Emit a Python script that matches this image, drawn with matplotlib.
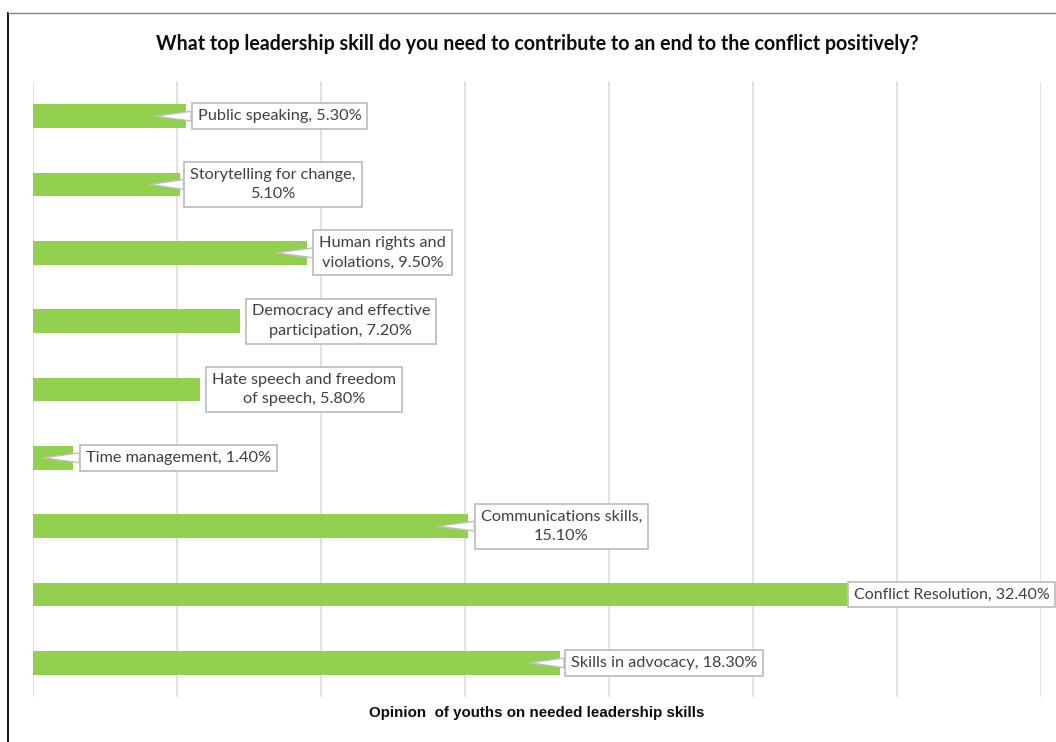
import matplotlib
matplotlib.use("Agg")
import matplotlib.pyplot as plt
from matplotlib.lines import Line2D
import numpy as np

# Survey results (top to bottom as shown)
skills = ["Public speaking", "Storytelling for change", "Human rights and violations",
          "Democracy and effective participation", "Hate speech and freedom of speech",
          "Time management", "Communications skills", "Conflict Resolution",
          "Skills in advocacy"]
shares = [5.3, 5.1, 9.5, 7.2, 5.8, 1.4, 15.1, 32.4, 18.3]

# Label text, with the line breaks used in the callouts
label_names = ["Public speaking,", "Storytelling for change,\n", "Human rights and\nviolations,",
               "Democracy and effective\nparticipation,", "Hate speech and freedom\nof speech,",
               "Time management,", "Communications skills,\n", "Conflict Resolution,",
               "Skills in advocacy,"]

# Callout box centre x (in % units) and whether a pointer is drawn
box_x = [8.56, 8.33, 12.14, 10.69, 9.41, 5.05, 18.35, None, 21.90]
has_pointer = [True, True, True, False, False, True, True, False, True]

title = "What top leadership skill do you need to contribute to an end to the conflict positively?"
xlabel = "Opinion  of youths on needed leadership skills"

plt.rcParams['font.family'] = ['Lato', 'DejaVu Sans']

fig = plt.figure(figsize=(10.56, 7.42), dpi=100)
ax = fig.add_axes([33 / 1056, 1 - 697 / 742, 1008 / 1056, 615 / 742])

y = np.arange(len(skills))
ax.barh(y, shares, height=0.35, color="#92D050", zorder=2)
ax.set_ylim(len(skills) - 0.5, -0.5)
ax.set_xlim(0, 35)
ax.set_xticks(np.arange(0, 36, 5))
ax.grid(axis="x", color="#D9D9D9", linewidth=1.1, zorder=0)
ax.tick_params(left=False, bottom=False, labelleft=False, labelbottom=False)
for s in ax.spines.values():
    s.set_visible(False)

box = dict(boxstyle="square,pad=0.36", fc="white", ec="#BFBFBF", lw=1.3)
for i, v in enumerate(shares):
    sep = "" if label_names[i].endswith("\n") else " "
    text = f"{label_names[i]}{sep}{v:.2f}%"
    if box_x[i] is None:
        # long bar: label sits over the end of the bar
        ax.annotate(text, xy=(28.5, i), ha="left", va="center", fontsize=11.5,
                    color="#404040", bbox=box, annotation_clip=False, zorder=5)
        continue
    arrow = None
    if has_pointer[i]:
        arrow = dict(arrowstyle="wedge,tail_width=0.6", fc="white", ec="#BFBFBF",
                     lw=1.0, shrinkA=0, shrinkB=0)
    ax.annotate(text, xy=(v - 1.05, i), xytext=(box_x[i], i), ha="center", va="center",
                multialignment="center", linespacing=1.5, fontsize=11.7,
                color="#404040", bbox=box, arrowprops=arrow, annotation_clip=False,
                zorder=5)

fig.text(537 / 1056, 1 - 44 / 742, title, ha="center", va="center",
         fontsize=14.1, fontweight="bold", color="#0D0D0D")
fig.text(537 / 1056, 1 - 713 / 742, xlabel, ha="center", va="center",
         fontsize=10.9, fontweight="bold", color="#0D0D0D", family="Liberation Sans")

# chart frame edges
fig.add_artist(Line2D([8 / 1056, 8 / 1056], [0, 1 - 13 / 742], color="black", lw=1.3))
fig.add_artist(Line2D([8 / 1056, 1], [1 - 13 / 742, 1 - 13 / 742], color="#808080", lw=1.0))

fig.savefig("out.png", dpi=100)
